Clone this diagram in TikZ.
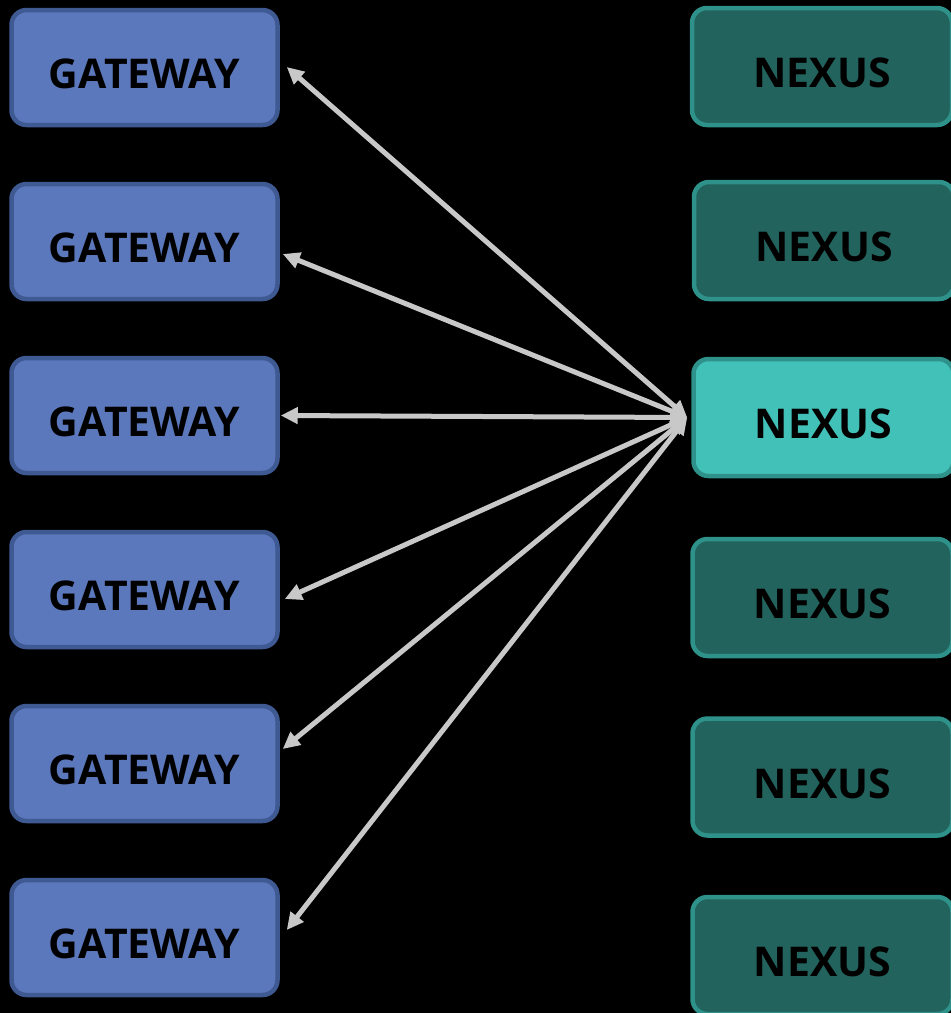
\documentclass[tikz,border=0pt]{standalone}
\usepackage{fontspec}
\setmainfont{Open Sans}
\usetikzlibrary{arrows.meta,calc}
\definecolor{gwfill}{HTML}{5C78BD}
\definecolor{gwline}{HTML}{3F5993}
\definecolor{nxfill}{HTML}{22635D}
\definecolor{nxline}{HTML}{2E928A}
\definecolor{nxhi}{HTML}{42C1B8}
\definecolor{conn}{HTML}{C8C8C8}
\begin{document}
\begin{tikzpicture}[x=1pt,y=-1pt,
  box/.style={rectangle,rounded corners=15pt,line width=4.5pt,text=black,
    font=\fontsize{41}{43}\selectfont\bfseries,text height=42pt,text depth=0pt,inner sep=0pt},
  gw/.style={box,draw=gwline,fill=gwfill,minimum width=266pt,minimum height=115pt},
  nx/.style={box,draw=nxline,fill=nxfill,minimum width=260pt,minimum height=117pt},
  nxh/.style={nx,fill=nxhi},
  link/.style={draw=conn,line width=5pt,{Triangle[length=17pt,width=16pt]}-{Triangle[length=17pt,width=16pt]}}]
\fill[black] (0,0) rectangle (951,1013);
\useasboundingbox (0,0) rectangle (951,1013);
\node[gw] (g1) at (144.5,67.5) {GATEWAY};
\node[gw] (g2) at (144.5,241.5) {GATEWAY};
\node[gw] (g3) at (144.5,415.5) {GATEWAY};
\node[gw] (g4) at (144.5,589.5) {GATEWAY};
\node[gw] (g5) at (144.5,763.5) {GATEWAY};
\node[gw] (g6) at (144.5,937.5) {GATEWAY};
\node[nx] (n1) at (822,66.5) {NEXUS};
\node[nx] (n2) at (824,240.5) {NEXUS};
\node[nxh] (n3) at (823.5,417.5) {NEXUS};
\node[nx] (n4) at (822.5,597.5) {NEXUS};
\node[nx] (n5) at (822.5,777) {NEXUS};
\node[nx] (n6) at (822.5,955.5) {NEXUS};
\coordinate (hub) at ($(n3.west)+(-4,0)$);
\draw[link] (hub) -- ($(g1.east)+(7,-0.5)$);
\draw[link] (hub) -- ($(g2.east)+(3,12.5)$);
\draw[link] (hub) -- ($(g3.east)+(1,0)$);
\draw[link] (hub) -- ($(g4.east)+(5,9.5)$);
\draw[link] (hub) -- ($(g5.east)+(3,-14.5)$);
\draw[link] (hub) -- ($(g6.east)+(7,-7.5)$);
\end{tikzpicture}
\end{document}
